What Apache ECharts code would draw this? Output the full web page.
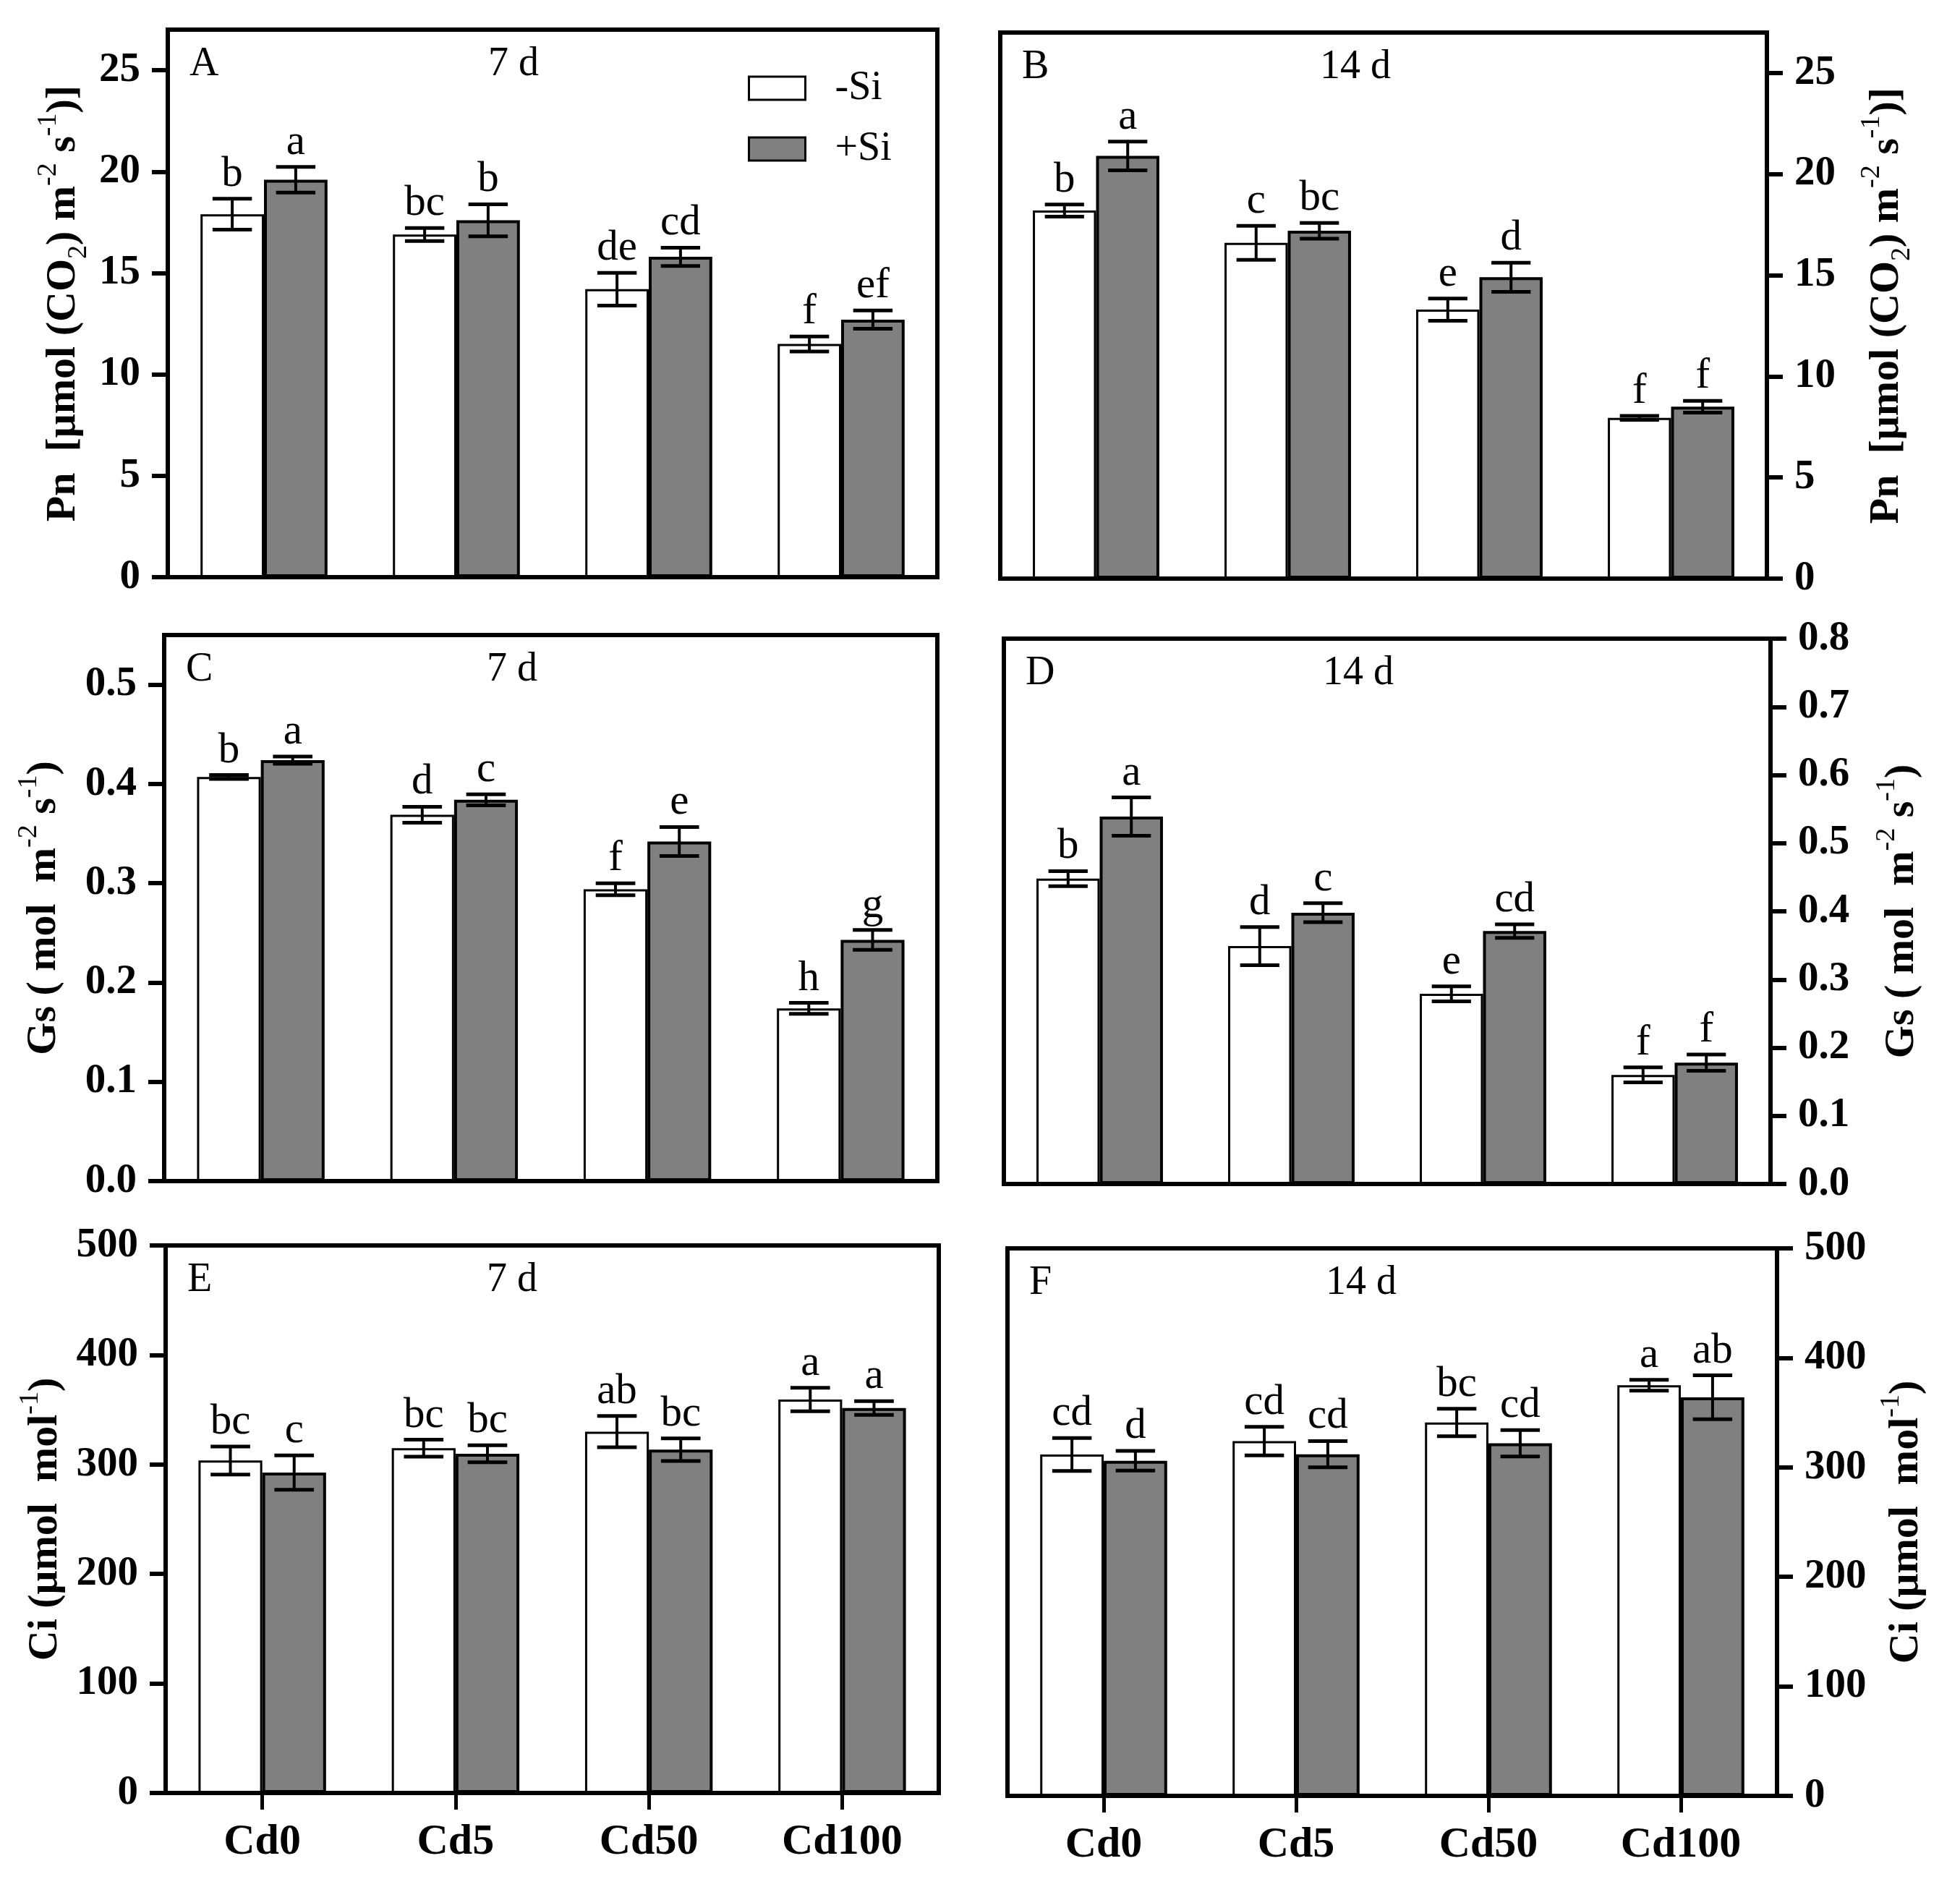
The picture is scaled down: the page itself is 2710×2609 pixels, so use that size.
<!DOCTYPE html>
<html>
<head>
<meta charset="utf-8">
<script src="https://cdn.jsdelivr.net/npm/echarts@6/dist/echarts.min.js"></script>
<style>
html,body{margin:0;padding:0;background:#fff;}
#chart{width:2710px;height:2609px;}
</style>
</head>
<body>
<div id="chart"></div>
<script>
// ---------------- data ----------------
const categories = ['Cd0', 'Cd5', 'Cd50', 'Cd100'];
const seriesNames = ['-Si', '+Si'];

// Pn, 7 d (panel A)
const pn7NoSi = [17.9, 16.9, 14.2, 11.5];
const pn7NoSiErr = [0.76, 0.32, 0.81, 0.37];
const pn7Si = [19.6, 17.6, 15.8, 12.7];
const pn7SiErr = [0.63, 0.79, 0.45, 0.45];
const pn7NoSiLetters = ['b', 'bc', 'de', 'f'];
const pn7SiLetters = ['a', 'b', 'cd', 'ef'];

// Pn, 14 d (panel B)
const pn14NoSi = [18.2, 16.6, 13.3, 7.95];
const pn14NoSiErr = [0.3, 0.84, 0.55, 0.1];
const pn14Si = [20.9, 17.2, 14.9, 8.5];
const pn14SiErr = [0.71, 0.39, 0.72, 0.29];
const pn14NoSiLetters = ['b', 'c', 'e', 'f'];
const pn14SiLetters = ['a', 'bc', 'd', 'f'];

// Gs, 7 d (panel C)
const gs7NoSi = [0.407, 0.369, 0.294, 0.174];
const gs7NoSiErr = [0.002, 0.008, 0.006, 0.0055];
const gs7Si = [0.424, 0.384, 0.342, 0.243];
const gs7SiErr = [0.0036, 0.0055, 0.0146, 0.01];
const gs7NoSiLetters = ['b', 'd', 'f', 'h'];
const gs7SiLetters = ['a', 'c', 'e', 'g'];

// Gs, 14 d (panel D)
const gs14NoSi = [0.448, 0.349, 0.279, 0.160];
const gs14NoSiErr = [0.011, 0.028, 0.011, 0.011];
const gs14Si = [0.539, 0.398, 0.371, 0.178];
const gs14SiErr = [0.028, 0.014, 0.01, 0.012];
const gs14NoSiLetters = ['b', 'd', 'e', 'f'];
const gs14SiLetters = ['a', 'c', 'cd', 'f'];

// Ci, 7 d (panel E)
const ci7NoSi = [303.6, 314.9, 330.0, 359.3];
const ci7NoSiErr = [12.8, 7.7, 14.3, 10.8];
const ci7Si = [292.6, 309.8, 313.5, 351.6];
const ci7SiErr = [15.7, 7.8, 10.3, 6.3];
const ci7NoSiLetters = ['bc', 'bc', 'ab', 'a'];
const ci7SiLetters = ['c', 'bc', 'bc', 'a'];

// Ci, 14 d (panel F)
const ci14NoSi = [311.8, 324, 341, 375];
const ci14NoSiErr = [15, 13, 12.5, 5];
const ci14Si = [306, 312, 322, 364];
const ci14SiErr = [9, 12, 12, 20];
const ci14NoSiLetters = ['cd', 'cd', 'bc', 'a'];
const ci14SiLetters = ['d', 'cd', 'cd', 'ab'];

// tick labels
const pnTicks = [0, 5, 10, 15, 20, 25];
const gs7Ticks = [0, 0.1, 0.2, 0.3, 0.4, 0.5];
const gs14Ticks = [0, 0.1, 0.2, 0.3, 0.4, 0.5, 0.6, 0.7, 0.8];
const ciTicks = [0, 100, 200, 300, 400, 500];

// axis titles (rich text)
const pnTitle = '{m|Pn  [μmol (CO}{sub|2}{m|) m}{sup|-2}{m| s}{sup|-1}{m|)]}';
const gsTitle = '{m|Gs ( mol  m}{sup|-2}{m| s}{sup|-1}{m|)}';
const ciTitle = '{m|Ci (μmol  mol}{sup|-1}{m|)}';

// ---------------- layout / style ----------------
const FONT = 'Liberation Serif';
const BAR_FRAC = 0.33;
const panels = [
  {id:'A', day:'7 d',  dayX:710,  grid:{left:232, top:41,  width:1064, height:757}, pos:'left',  min:0, max:27,   ticks:pnTicks,  dec:0, title:pnTitle, gap:104,
   v:[pn7NoSi, pn7Si], e:[pn7NoSiErr, pn7SiErr], l:[pn7NoSiLetters, pn7SiLetters], bottom:false},
  {id:'B', day:'14 d', dayX:1874, grid:{left:1383, top:45, width:1060, height:755}, pos:'right', min:0, max:27,   ticks:pnTicks,  dec:0, title:pnTitle, gap:126,
   v:[pn14NoSi, pn14Si], e:[pn14NoSiErr, pn14SiErr], l:[pn14NoSiLetters, pn14SiLetters], bottom:false},
  {id:'C', day:'7 d',  dayX:708,  grid:{left:227, top:878, width:1069, height:755}, pos:'left',  min:0, max:0.55, ticks:gs7Ticks, dec:1, title:gsTitle, gap:126,
   v:[gs7NoSi, gs7Si], e:[gs7NoSiErr, gs7SiErr], l:[gs7NoSiLetters, gs7SiLetters], bottom:false},
  {id:'D', day:'14 d', dayX:1878, grid:{left:1388, top:883, width:1060, height:754}, pos:'right', min:0, max:0.8,  ticks:gs14Ticks, dec:1, title:gsTitle, gap:142,
   v:[gs14NoSi, gs14Si], e:[gs14NoSiErr, gs14SiErr], l:[gs14NoSiLetters, gs14SiLetters], bottom:false},
  {id:'E', day:'7 d',  dayX:708,  grid:{left:229, top:1722, width:1069, height:757}, pos:'left', min:0, max:500,  ticks:ciTicks, dec:0, title:ciTitle, gap:126,
   v:[ci7NoSi, ci7Si], e:[ci7NoSiErr, ci7SiErr], l:[ci7NoSiLetters, ci7SiLetters], bottom:true},
  {id:'F', day:'14 d', dayX:1882, grid:{left:1393, top:1726, width:1064, height:757}, pos:'right', min:0, max:500, ticks:ciTicks, dec:0, title:ciTitle, gap:139,
   v:[ci14NoSi, ci14Si], e:[ci14NoSiErr, ci14SiErr], l:[ci14NoSiLetters, ci14SiLetters], bottom:true}
];

const fills = ['#ffffff', '#808080'];
const borderW = [3, 4];

const grids = [], xAxes = [], yAxes = [], series = [], graphics = [];

panels.forEach((p, gi) => {
  grids.push(Object.assign({show:true, borderColor:'#000', borderWidth:6, backgroundColor:'rgba(0,0,0,0)', containLabel:false}, p.grid));
  xAxes.push({
    type:'category', gridIndex:gi, data:categories, boundaryGap:true,
    axisLine:{show:true, onZero:false, lineStyle:{color:'#000', width:6}},
    axisTick:{show:p.bottom, alignWithLabel:true, inside:false, length:23, lineStyle:{color:'#000', width:5}},
    axisLabel:{show:p.bottom, margin:38, color:'#000', fontFamily:FONT, fontWeight:'bold', fontSize:60},
    splitLine:{show:false}
  });
  yAxes.push({
    type:'value', gridIndex:gi, position:p.pos, min:p.min, max:p.max,
    axisLine:{show:true, onZero:false, lineStyle:{color:'#000', width:6}},
    axisTick:{show:true, inside:false, length:22, customValues:p.ticks, lineStyle:{color:'#000', width:6}},
    axisLabel:{show:true, margin:38, customValues:p.ticks, color:'#000', fontFamily:FONT, fontWeight:'bold', fontSize:57,
      formatter:(v) => Number(v).toFixed(p.dec)},
    splitLine:{show:false},
    name:p.title, nameLocation:'middle', nameRotate:90, nameGap:p.gap,
    nameTextStyle:{
      color:'#000',
      rich:{
        m:{fontFamily:FONT, fontWeight:'bold', fontSize:58, lineHeight:80, color:'#000'},
        sup:{fontFamily:FONT, fontWeight:'normal', fontSize:38, lineHeight:38, verticalAlign:'top', color:'#000'},
        sub:{fontFamily:FONT, fontWeight:'normal', fontSize:38, lineHeight:50, verticalAlign:'bottom', color:'#000'}
      }
    }
  });
  [0, 1].forEach(s => {
    series.push({
      type:'bar', name:seriesNames[s], xAxisIndex:gi, yAxisIndex:gi,
      data:p.v[s], barWidth:(BAR_FRAC * 100) + '%', barGap:'0%',
      itemStyle:{color:fills[s], borderColor:'#000', borderWidth:borderW[s]},
      emphasis:{disabled:true}, silent:true, z:2
    });
  });
  // error bars + significance letters
  const errData = [];
  [0, 1].forEach(s => categories.forEach((c, ci) => errData.push([ci, s, p.v[s][ci], p.e[s][ci]])));
  series.push({
    type:'custom', xAxisIndex:gi, yAxisIndex:gi, data:errData, encode:{x:0, y:2}, z:5, silent:true,
    renderItem:(params, api) => {
      const ci = api.value(0), s = api.value(1), v = api.value(2), e = api.value(3);
      const band = api.size([1, 0])[0];
      const bw = band * BAR_FRAC;
      const cx = api.coord([ci, 0])[0] + (s === 0 ? -bw / 2 : bw / 2);
      const yt = api.coord([ci, v + e])[1];
      const yb = api.coord([ci, v - e])[1];
      const ch = bw * 0.31;
      const letter = p.l[s][ci];
      return {type:'group', children:[
        {type:'line', shape:{x1:cx, y1:yt, x2:cx, y2:yb}, style:{stroke:'#000', lineWidth:4}},
        {type:'line', shape:{x1:cx - ch, y1:yt, x2:cx + ch, y2:yt}, style:{stroke:'#000', lineWidth:5}},
        {type:'line', shape:{x1:cx - ch, y1:yb, x2:cx + ch, y2:yb}, style:{stroke:'#000', lineWidth:5}},
        {type:'text', x:cx, y:yt - 4, style:{text:letter, font:'59px "' + FONT + '"', fill:'#000', align:'center', verticalAlign:'bottom'}}
      ]};
    }
  });
  // panel letter and day label
  const midY = p.grid.top + 48;
  graphics.push({type:'text', left:p.grid.left + 30, top:midY - 28, style:{text:p.id, font:'56px "' + FONT + '"', fill:'#000'}});
  graphics.push({type:'text', x:p.dayX, y:midY, style:{text:p.day, font:'56px "' + FONT + '"', fill:'#000', align:'center', verticalAlign:'middle'}});
});

const chart = echarts.init(document.getElementById('chart'), null, {renderer:'canvas', width:2710, height:2609});
chart.setOption({
  animation:false,
  backgroundColor:'#fff',
  grid:grids,
  xAxis:xAxes,
  yAxis:yAxes,
  legend:{
    show:true, orient:'vertical', left:1034, top:94, padding:0, itemWidth:78, itemHeight:32, itemGap:28, selectedMode:false,
    icon:'rect',
    data:[
      {name:'-Si', itemStyle:{color:'#ffffff', borderColor:'#000', borderWidth:3}},
      {name:'+Si', itemStyle:{color:'#808080', borderColor:'#000', borderWidth:3}}
    ],
    textStyle:{fontFamily:FONT, fontSize:56, lineHeight:56, color:'#000', padding:[0, 0, 0, 36]}
  },
  graphic:graphics,
  series:series
});
</script>
</body>
</html>
